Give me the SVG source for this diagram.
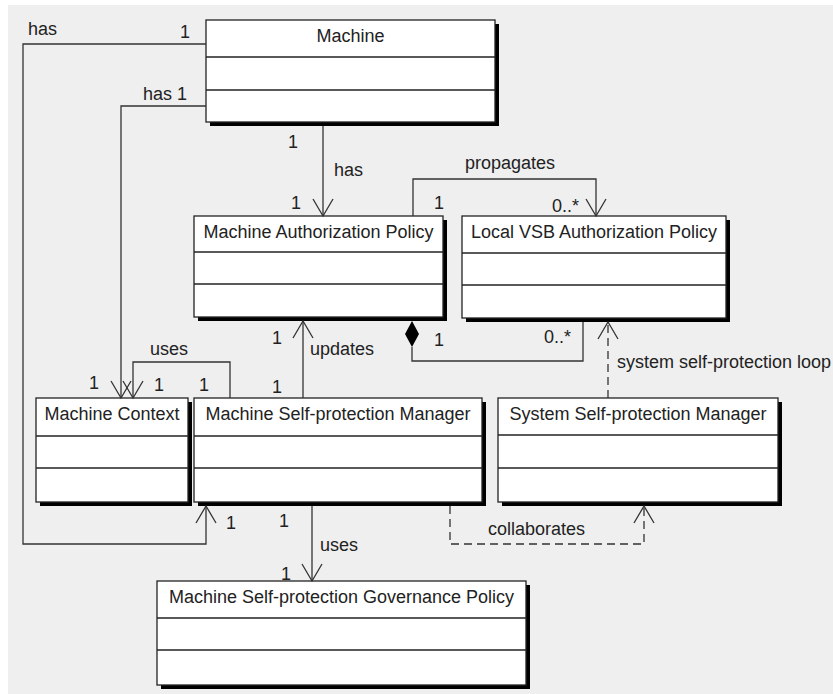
<svg xmlns="http://www.w3.org/2000/svg" width="833" height="694" viewBox="0 0 833 694">
  <defs>
    <style>
      text { font-family: "Liberation Sans", Arial, sans-serif; font-size: 18px; fill: #222; }
      .title { text-anchor: middle; }
      .shadow { fill: #000; }
      .box { fill: #fff; stroke: #222; stroke-width: 1.3; }
      .sep { stroke: #222; stroke-width: 1.3; }
      .conn { fill: none; stroke: #333; stroke-width: 1.3; }
      .dash { stroke-dasharray: 8 5; }
    </style>
    <marker id="open" viewBox="-19 -12 21 24" refX="0" refY="0" markerWidth="21" markerHeight="24" markerUnits="userSpaceOnUse" orient="auto">
      <path d="M-17,-10 L0,0 L-17,10" fill="none" stroke="#333" stroke-width="1.3"/>
    </marker>
  </defs>

  <!-- canvas -->
  <rect x="0" y="0" width="833" height="694" fill="#fff"/>
  <rect x="8" y="5" width="825" height="689" fill="#efefef"/>

  <!-- classes -->
  <g id="machine">
    <rect class="shadow" x="210" y="24" width="289" height="102"/>
    <rect class="box" x="206" y="20" width="289" height="102"/>
    <line class="sep" x1="206" y1="57" x2="495" y2="57"/>
    <line class="sep" x1="206" y1="90" x2="495" y2="90"/>
    <text class="title" x="350.5" y="42">Machine</text>
  </g>

  <g id="machine-authorization-policy">
    <rect class="shadow" x="198" y="220" width="249" height="101"/>
    <rect class="box" x="194" y="216" width="249" height="101"/>
    <line class="sep" x1="194" y1="252" x2="443" y2="252"/>
    <line class="sep" x1="194" y1="284" x2="443" y2="284"/>
    <text class="title" x="318.5" y="238">Machine Authorization Policy</text>
  </g>

  <g id="local-vsb-authorization-policy">
    <rect class="shadow" x="466" y="220" width="264" height="102"/>
    <rect class="box" x="462" y="216" width="264" height="102"/>
    <line class="sep" x1="462" y1="253" x2="726" y2="253"/>
    <line class="sep" x1="462" y1="285" x2="726" y2="285"/>
    <text class="title" x="594" y="238">Local VSB Authorization Policy</text>
  </g>

  <g id="machine-context">
    <rect class="shadow" x="40" y="402" width="152" height="104"/>
    <rect class="box" x="36" y="398" width="152" height="104"/>
    <line class="sep" x1="36" y1="436" x2="188" y2="436"/>
    <line class="sep" x1="36" y1="468" x2="188" y2="468"/>
    <text class="title" x="112" y="420">Machine Context</text>
  </g>

  <g id="machine-self-protection-manager">
    <rect class="shadow" x="198" y="402" width="288" height="104"/>
    <rect class="box" x="194" y="398" width="288" height="104"/>
    <line class="sep" x1="194" y1="436" x2="482" y2="436"/>
    <line class="sep" x1="194" y1="468" x2="482" y2="468"/>
    <text class="title" x="338" y="420">Machine Self-protection Manager</text>
  </g>

  <g id="system-self-protection-manager">
    <rect class="shadow" x="502" y="402" width="280" height="104"/>
    <rect class="box" x="498" y="398" width="280" height="104"/>
    <line class="sep" x1="498" y1="435" x2="778" y2="435"/>
    <line class="sep" x1="498" y1="468" x2="778" y2="468"/>
    <text class="title" x="638" y="420">System Self-protection Manager</text>
  </g>

  <g id="machine-self-protection-governance-policy">
    <rect class="shadow" x="161" y="585" width="369" height="104"/>
    <rect class="box" x="157" y="581" width="369" height="104"/>
    <line class="sep" x1="157" y1="618" x2="526" y2="618"/>
    <line class="sep" x1="157" y1="650" x2="526" y2="650"/>
    <text class="title" x="341.5" y="603">Machine Self-protection Governance Policy</text>
  </g>

  <!-- associations -->
  <g id="connectors">
    <path class="conn" d="M206,44 H23 V544 H206 V506" marker-end="url(#open)"/>
    <path class="conn" d="M206,106 H121 V398" marker-end="url(#open)"/>
    <path class="conn" d="M323,126 V216" marker-end="url(#open)"/>
    <path class="conn" d="M413,216 V179 H596 V216" marker-end="url(#open)"/>
    <path d="M412,321 L419,334 L412,347 L405,334 Z" fill="#000"/>
    <path class="conn" d="M412,347 V361 H583 V322"/>
    <path class="conn" d="M303,398 V321" marker-end="url(#open)"/>
    <path class="conn" d="M230,398 V362 H133 V398" marker-end="url(#open)"/>
    <path class="conn" d="M312,506 V581" marker-end="url(#open)"/>
    <path class="conn dash" d="M450,506 V544 H644 V506" marker-end="url(#open)"/>
    <path class="conn dash" d="M608,398 V322" marker-end="url(#open)"/>
  </g>

  <!-- association labels and multiplicities -->
  <g id="labels">
    <text x="28" y="35">has</text>
    <text x="180" y="38">1</text>
    <text x="143" y="100">has 1</text>
    <text x="288" y="148">1</text>
    <text x="334" y="176">has</text>
    <text x="291" y="209">1</text>
    <text x="465" y="169">propagates</text>
    <text x="434" y="209">1</text>
    <text x="552" y="212">0..*</text>
    <text x="434" y="346">1</text>
    <text x="544" y="343">0..*</text>
    <text x="272" y="344">1</text>
    <text x="310" y="355">updates</text>
    <text x="272" y="393">1</text>
    <text x="150" y="355">uses</text>
    <text x="89" y="389">1</text>
    <text x="154" y="391">1</text>
    <text x="199" y="391">1</text>
    <text x="226" y="529">1</text>
    <text x="279" y="527">1</text>
    <text x="320" y="551">uses</text>
    <text x="281" y="580">1</text>
    <text x="488" y="535">collaborates</text>
    <text x="617" y="368">system self-protection loop</text>
  </g>
</svg>
